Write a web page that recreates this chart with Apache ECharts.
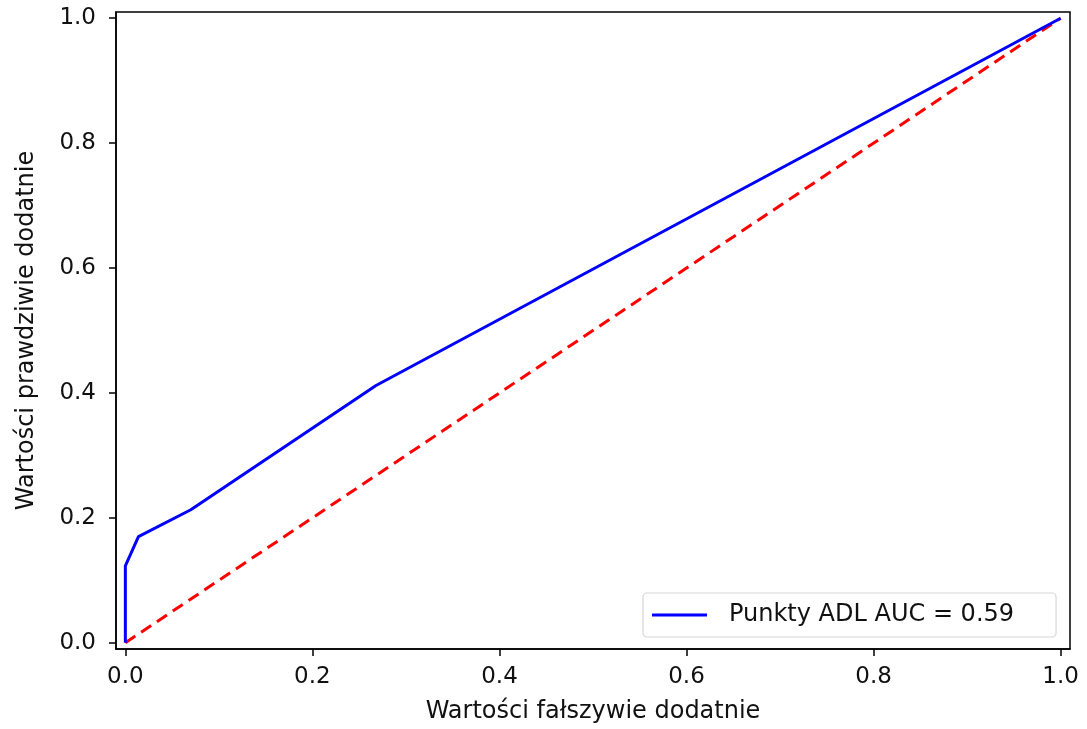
<!DOCTYPE html>
<html>
<head>
<meta charset="utf-8">
<script src="https://cdn.jsdelivr.net/npm/echarts@6/dist/echarts.min.js"></script>
<style>html,body{margin:0;padding:0;background:#fff}#c{width:1087px;height:729px}</style>
</head>
<body>
<div id="c"></div>
<script>
const fpr = [0, 0, 0.014, 0.07, 0.268, 1];
const tpr = [0, 0.123, 0.17, 0.213, 0.412, 1];
const diagX = [0, 1];
const diagY = [0, 1];
const tickValues = [0, 0.2, 0.4, 0.6, 0.8, 1.0];
const seriesName = 'Punkty ADL AUC = 0.59';
const xName = 'Wartości fałszywie dodatnie';
const yName = 'Wartości prawdziwie dodatnie';

const FONT = 'DejaVu Sans';
const chart = echarts.init(document.getElementById('c'), null, {renderer: 'canvas'});
const axisCommon = {
  type: 'value', min: -0.01, max: 1.01,
  nameLocation: 'middle',
  nameTextStyle: {fontFamily: FONT, fontSize: 24, color: '#111'},
  axisLine: {show: true, onZero: false, lineStyle: {color: '#000', width: 1.5}},
  axisTick: {show: true, inside: false, length: 7, lineStyle: {color: '#000', width: 1.5}, customValues: tickValues},
  axisLabel: {fontFamily: FONT, fontSize: 23, color: '#111', customValues: tickValues, formatter: v => v.toFixed(1)},
  splitLine: {show: false}
};
chart.setOption({
  animation: false,
  grid: {left: 116, right: 17, top: 12, bottom: 78, show: true, borderColor: '#000', borderWidth: 1.5, backgroundColor: 'transparent'},
  xAxis: Object.assign({}, axisCommon, {name: xName, nameGap: 51, axisLabel: Object.assign({}, axisCommon.axisLabel, {margin: 17})}),
  yAxis: Object.assign({}, axisCommon, {name: yName, nameGap: 77, axisLabel: Object.assign({}, axisCommon.axisLabel, {margin: 20})}),
  legend: {
    data: [{name: seriesName, icon: 'rect'}],
    left: 643, top: 593,
    padding: [9, 42, 9, 9],
    itemWidth: 55, itemHeight: 3,
    backgroundColor: '#fff',
    borderColor: '#d6d6d6', borderWidth: 1.2, borderRadius: 4,
    textStyle: {fontFamily: FONT, fontSize: 24, lineHeight: 26, color: '#111', padding: [0, 0, 0, 17]}
  },
  series: [
    {
      name: seriesName, type: 'line', symbol: 'none',
      data: fpr.map((x, i) => [x, tpr[i]]),
      lineStyle: {color: '#0000ff', width: 3},
      itemStyle: {color: '#0000ff'},
      z: 3
    },
    {
      name: 'diag', type: 'line', symbol: 'none',
      data: diagX.map((x, i) => [x, diagY[i]]),
      lineStyle: {color: '#ff0000', width: 3, type: [12, 7]},
      itemStyle: {color: '#ff0000'},
      z: 2
    }
  ]
});
</script>
</body>
</html>
